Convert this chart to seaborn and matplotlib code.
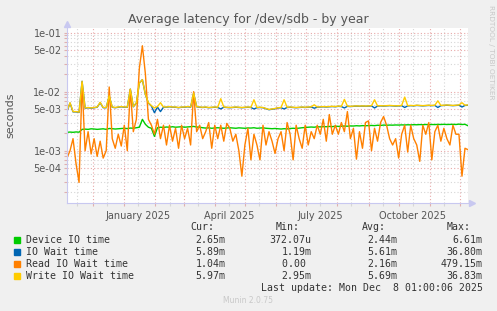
import matplotlib
matplotlib.use("Agg")
import numpy as np
import pandas as pd
import matplotlib.pyplot as plt
import matplotlib.ticker as mticker
import matplotlib.dates as mdates
from matplotlib.patches import Rectangle
import seaborn as sns

# one sample every 3 days, values in milliseconds
dates = pd.date_range("2024-11-05", periods=134, freq="3D")

device_io = [
    2.05, 2.07, 2.05, 2.08, 2.06, 2.30, 2.32, 2.30, 2.35, 2.33,
    2.30, 2.32, 2.35, 2.30, 2.38, 2.36, 2.33, 2.35, 2.38, 2.40,
    2.37, 2.42, 2.40, 2.45, 2.50, 3.40, 2.80, 2.50, 2.40, 1.75,
    2.45, 2.50, 2.48, 2.52, 2.50, 2.55, 2.50, 2.52, 2.55, 2.50,
    2.53, 2.55, 2.58, 2.52, 2.50, 2.45, 2.42, 2.44, 2.40, 2.42,
    2.45, 2.42, 2.40, 2.43, 2.45, 2.42, 2.40, 2.44, 2.42, 2.40,
    2.43, 2.42, 2.45, 2.40, 2.42, 2.44, 2.40, 2.38, 2.36, 2.38,
    2.35, 2.33, 2.36, 2.34, 2.38, 2.40, 2.38, 2.42, 2.45, 2.48,
    2.50, 2.52, 2.50, 2.55, 2.53, 2.56, 2.55, 2.58, 2.56, 2.60,
    2.58, 2.60, 2.62, 2.60, 2.63, 2.62, 2.65, 2.63, 2.66, 2.65,
    2.66, 2.68, 2.66, 2.70, 2.68, 2.72, 2.70, 2.72, 2.71, 2.73,
    2.72, 2.74, 2.73, 2.75, 2.74, 2.76, 2.75, 2.77, 2.76, 2.78,
    2.76, 2.78, 2.77, 2.79, 2.78, 2.80, 2.78, 2.79, 2.80, 2.78,
    2.82, 2.78, 2.80, 2.65,
]
io_wait = [
    4.65, 6.40, 4.55, 4.55, 4.45, 15.0, 5.25, 5.35, 5.25, 5.35,
    5.45, 6.50, 5.35, 5.35, 8.40, 5.45, 5.35, 5.45, 5.55, 5.45,
    5.45, 11.0, 5.55, 6.40, 14.0, 16.0, 9.00, 6.40, 5.70, 4.40,
    5.50, 4.60, 5.45, 5.45, 5.55, 5.45, 5.45, 5.35, 5.45, 5.45,
    5.55, 5.45, 9.40, 5.55, 5.45, 5.40, 5.45, 5.35, 5.40, 5.45,
    5.40, 5.10, 5.45, 5.40, 5.35, 5.40, 5.45, 5.40, 5.35, 5.40,
    5.45, 5.40, 5.10, 5.35, 5.40, 5.35, 5.15, 4.95, 5.05, 5.15,
    5.30, 5.35, 5.10, 5.40, 5.45, 5.40, 5.35, 5.40, 5.45, 5.40,
    5.45, 5.50, 5.25, 5.45, 5.50, 5.55, 5.50, 5.55, 5.60, 5.55,
    5.65, 5.60, 5.30, 5.65, 5.60, 5.65, 5.70, 5.65, 5.70, 5.65,
    5.70, 5.75, 5.30, 5.70, 5.75, 5.70, 5.75, 5.80, 5.75, 5.70,
    5.75, 5.80, 5.40, 5.75, 5.80, 5.75, 5.85, 5.80, 5.75, 5.80,
    5.85, 5.80, 5.85, 5.40, 5.80, 5.85, 5.90, 5.85, 5.80, 5.85,
    5.90, 5.50, 5.85, 5.89,
]
read_wait = [
    0.75, 1.0, 1.6, 0.6, 0.29, 14, 1.0, 2.1, 0.88, 1.6,
    0.8, 1.45, 0.75, 1.0, 12, 1.6, 1.1, 1.9, 1.2, 2.7,
    1.0, 11, 2.1, 3.4, 25, 60, 20, 3.4, 2.7, 1.9,
    3.4, 1.6, 2.7, 1.25, 2.7, 1.45, 2.4, 1.1, 2.7, 1.6,
    2.4, 1.25, 10, 2.1, 2.7, 1.6, 2.1, 3.0, 1.1, 2.7,
    1.6, 2.7, 1.45, 2.9, 2.4, 1.45, 1.9, 1.0, 0.37, 1.25,
    2.4, 0.7, 1.9, 1.25, 0.7, 2.7, 1.25, 2.1, 1.45, 0.9,
    1.6, 2.1, 1.0, 3.0, 1.9, 0.7, 2.7, 1.6, 1.1, 2.7,
    1.25, 2.1, 1.6, 2.7, 1.9, 3.4, 1.45, 4.1, 1.9, 2.7,
    1.9, 3.0, 2.1, 4.6, 1.6, 2.4, 0.72, 2.1, 1.1, 3.0,
    3.2, 1.0, 2.4, 1.45, 3.0, 3.8, 2.7, 1.6, 1.25, 1.6,
    0.75, 1.9, 2.7, 0.95, 2.7, 1.6, 1.25, 0.66, 2.7, 1.9,
    3.0, 0.7, 2.1, 2.7, 1.45, 2.4, 1.6, 1.25, 2.7, 1.9,
    1.9, 0.37, 1.1, 1.04,
]
write_wait = [
    4.70, 6.50, 4.60, 4.60, 4.50, 15.0, 5.30, 5.40, 5.30, 5.40,
    5.50, 6.60, 5.40, 5.40, 8.50, 5.50, 5.40, 5.50, 5.60, 5.50,
    5.50, 11.0, 5.60, 6.50, 14.0, 16.0, 9.00, 6.50, 5.80, 5.30,
    5.60, 6.50, 5.50, 5.50, 5.60, 5.50, 5.50, 5.40, 5.50, 5.50,
    5.60, 5.50, 9.50, 5.60, 5.50, 5.45, 5.50, 5.40, 5.45, 5.50,
    5.45, 7.60, 5.50, 5.45, 5.40, 5.45, 5.50, 5.45, 5.40, 5.45,
    5.50, 5.45, 7.30, 5.40, 5.45, 5.40, 5.20, 5.00, 5.10, 5.20,
    5.35, 5.40, 7.30, 5.45, 5.50, 5.45, 5.40, 5.45, 5.50, 5.45,
    5.50, 5.55, 6.00, 5.50, 5.55, 5.60, 5.55, 5.60, 5.65, 5.60,
    5.70, 5.65, 7.40, 5.70, 5.65, 5.70, 5.75, 5.70, 5.75, 5.70,
    5.75, 5.80, 7.30, 5.75, 5.80, 5.75, 5.80, 5.85, 5.80, 5.75,
    5.80, 5.85, 8.10, 5.80, 5.85, 5.80, 5.90, 5.85, 5.80, 5.85,
    5.90, 5.85, 5.90, 7.00, 5.85, 5.90, 5.95, 5.90, 5.85, 5.90,
    5.95, 6.50, 5.90, 5.97,
]

names = ["Device IO time", "IO Wait time", "Read IO Wait time", "Write IO Wait time"]
colors = ["#00CC00", "#0066B3", "#FF8000", "#FFCC00"]
cur = ["2.65m", "5.89m", "1.04m", "5.97m"]
vmin = ["372.07u", "1.19m", "0.00 ", "2.95m"]
avg = ["2.44m", "5.61m", "2.16m", "5.69m"]
vmax = ["6.61m", "36.80m", "479.15m", "36.83m"]

frames = []
for name, vals in zip(names, [device_io, io_wait, read_wait, write_wait]):
    frames.append(pd.DataFrame({"date": dates, "value": np.array(vals) / 1000.0, "series": name}))
df = pd.concat(frames, ignore_index=True)

W, H = 497, 311
fig = plt.figure(figsize=(W / 100, H / 100), dpi=100, facecolor="#F0F0F0")
ax = fig.add_axes([67 / W, 1 - 203 / H, 401 / W, 175 / H])
ax.set_facecolor("white")

sns.lineplot(data=df, x="date", y="value", hue="series", hue_order=names,
             palette=colors, estimator=None, linewidth=1.0, legend=False, ax=ax)

ax.set_yscale("log")
ax.set_ylim(1.3e-4, 0.12)
ax.set_xlim(pd.Timestamp("2024-11-05"), pd.Timestamp("2025-12-09"))

# y grid: 1 and 5 per decade are major
major_y = [1e-4, 5e-4, 1e-3, 5e-3, 1e-2, 5e-2, 1e-1]
minor_y = [m * 10.0 ** k for k in range(-4, 0) for m in (2, 3, 4, 6, 7, 8, 9)]
ax.yaxis.set_major_locator(mticker.FixedLocator(major_y))
ax.yaxis.set_major_formatter(mticker.FuncFormatter(lambda v, p: "%.0e" % v))
ax.yaxis.set_minor_locator(mticker.FixedLocator(minor_y))
ax.yaxis.set_minor_formatter(mticker.NullFormatter())

# x grid: month starts red, mid-month grey with labels
month_starts = pd.date_range("2024-11-01", "2025-12-01", freq="MS")
mid_months = month_starts + pd.Timedelta(days=14)
ax.xaxis.set_major_locator(mticker.FixedLocator(mdates.date2num(month_starts)))
ax.xaxis.set_major_formatter(mticker.NullFormatter())
ax.xaxis.set_minor_locator(mticker.FixedLocator(mdates.date2num(mid_months)))
labels = [d.strftime("%B %Y") if d.month in (1, 4, 7, 10) else "" for d in mid_months]
ax.xaxis.set_minor_formatter(mticker.FixedFormatter(labels))

ax.grid(which="major", color="#E8A8A8", linestyle=(0, (1, 2)), linewidth=0.8)
ax.grid(which="minor", color="#D6D6D6", linestyle=(0, (1, 2)), linewidth=0.8)
ax.set_axisbelow(True)
ax.tick_params(which="both", length=2, width=0.8, color="#E0B0B0", labelsize=7,
               labelcolor="#555555", pad=2)
ax.tick_params(axis="x", which="minor", color="#D6D6D6", pad=4)
ax.set_xlabel("")
ax.set_ylabel("")

for s in ["top", "right"]:
    ax.spines[s].set_visible(False)
for s in ["left", "bottom"]:
    ax.spines[s].set_color("#C8C8F0")
    ax.spines[s].set_linewidth(0.8)
ax.plot([0], [1 + 4 / 175], marker="^", ms=5, color="#C8C8F0", transform=ax.transAxes, clip_on=False)
ax.plot([1 + 4 / 401], [0], marker=">", ms=5, color="#C8C8F0", transform=ax.transAxes, clip_on=False)

# overlay in pixel coordinates for titles and legend
ov = fig.add_axes([0, 0, 1, 1])
ov.set_xlim(0, W)
ov.set_ylim(H, 0)
ov.axis("off")

ov.text(248, 19, "Average latency for /dev/sdb - by year", ha="center", va="center",
        fontsize=9, color="#555555")
ov.text(10, 115, "seconds", rotation=90, ha="center", va="center", fontsize=8, color="#555555")
ov.text(491, 52, "RRDTOOL / TOBI OETIKER", rotation=270, ha="center", va="center",
        fontsize=5.3, color="#C8C8C8")

mono = "DejaVu Sans Mono"
fs = 7.1
tc = "#333333"
ov.text(190, 227, "Cur:", ha="left", va="center", fontsize=fs, family=mono, color=tc)
ov.text(276, 227, "Min:", ha="left", va="center", fontsize=fs, family=mono, color=tc)
ov.text(361.7, 227, "Avg:", ha="left", va="center", fontsize=fs, family=mono, color=tc)
ov.text(446.7, 227, "Max:", ha="left", va="center", fontsize=fs, family=mono, color=tc)
for k, name in enumerate(names):
    y = 239.7 + 12 * k
    ov.add_patch(Rectangle((14, y - 3), 6, 6, color=colors[k]))
    ov.text(26.3, y, name, ha="left", va="center", fontsize=fs, family=mono, color=tc)
    ov.text(225.7, y, cur[k], ha="right", va="center", fontsize=fs, family=mono, color=tc)
    ov.text(311.7, y, vmin[k], ha="right", va="center", fontsize=fs, family=mono, color=tc)
    ov.text(397.3, y, avg[k], ha="right", va="center", fontsize=fs, family=mono, color=tc)
    ov.text(482.7, y, vmax[k], ha="right", va="center", fontsize=fs, family=mono, color=tc)
ov.text(482.7, 287.7, "Last update: Mon Dec  8 01:00:06 2025", ha="right", va="center",
        fontsize=fs, family=mono, color=tc)
ov.text(248, 300.5, "Munin 2.0.75", ha="center", va="center", fontsize=5.5, color="#C8C8C8")

fig.savefig("out.png", dpi=100, facecolor=fig.get_facecolor())
